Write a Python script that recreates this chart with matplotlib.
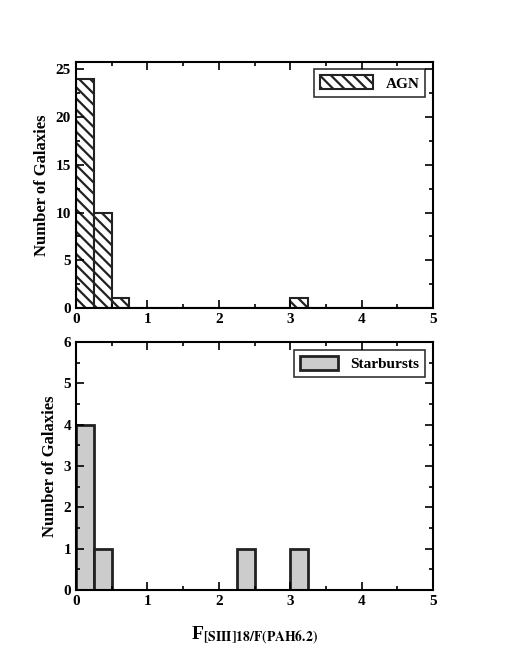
import matplotlib
matplotlib.use("Agg")
import matplotlib.pyplot as plt
import numpy as np

plt.rcParams['font.family'] = ['Liberation Serif', 'DejaVu Serif']
plt.rcParams['font.weight'] = 'bold'
plt.rcParams['hatch.linewidth'] = 1.6
plt.rcParams['mathtext.fontset'] = 'stix'

bin_edges = np.arange(0, 5.01, 0.25)
agn_counts = [24, 10, 1, 0, 0, 0, 0, 0, 0, 0, 0, 0, 1, 0, 0, 0, 0, 0, 0, 0]
sb_counts = [4, 1, 0, 0, 0, 0, 0, 0, 0, 1, 0, 0, 1, 0, 0, 0, 0, 0, 0, 0]

fig = plt.figure(figsize=(5.06, 6.71), dpi=100)
ax1 = fig.add_axes([0.150, 0.541, 0.706, 0.367])
ax2 = fig.add_axes([0.150, 0.121, 0.706, 0.369])

def style(ax, ymax, ymajor, yminor):
    ax.set_xlim(0, 5)
    ax.set_ylim(0, ymax)
    ax.set_xticks(np.arange(0, 6, 1))
    ax.set_xticks(np.arange(0, 5.01, 0.5), minor=True)
    ax.set_yticks(np.arange(0, ymax + 0.01, ymajor))
    ax.set_yticks(np.arange(0, ymax + 0.01, yminor), minor=True)
    ax.tick_params(which='both', direction='in', top=True, right=True, labelsize=11, width=1.2)
    ax.tick_params(which='major', length=6)
    ax.tick_params(which='minor', length=3)
    for s in ax.spines.values():
        s.set_linewidth(1.5)
    for lab in ax.get_xticklabels() + ax.get_yticklabels():
        lab.set_fontweight('bold')
    ax.set_ylabel('Number of Galaxies', fontsize=12, fontweight='bold')

ax1.bar(bin_edges[:-1], agn_counts, width=0.25, align='edge', facecolor='white',
        edgecolor='#222222', hatch='\\\\\\', linewidth=1.5, label='AGN')
style(ax1, 26, 5, 2.5)
ax1.set_ylim(0, 25.8)
ax1.legend(loc='upper right', fontsize=11, frameon=True, fancybox=False,
           edgecolor='black', handlelength=3.5, handleheight=1.0, borderpad=0.4).get_frame().set_linewidth(1.2)

ax2.bar(bin_edges[:-1], sb_counts, width=0.25, align='edge', facecolor='#cccccc',
        edgecolor='#222222', linewidth=2, label='Starbursts')
style(ax2, 6, 1, 0.5)
ax2.legend(loc='upper right', fontsize=11, frameon=True, fancybox=False,
           edgecolor='black', handlelength=2.5, handleheight=1.0, borderpad=0.4).get_frame().set_linewidth(1.2)
ax2.set_xlabel(r'F$_{\mathbf{[SIII]18/F(PAH6.2)}}$', fontsize=14, fontweight='bold', labelpad=12)

fig.savefig('out.png', dpi=100)
